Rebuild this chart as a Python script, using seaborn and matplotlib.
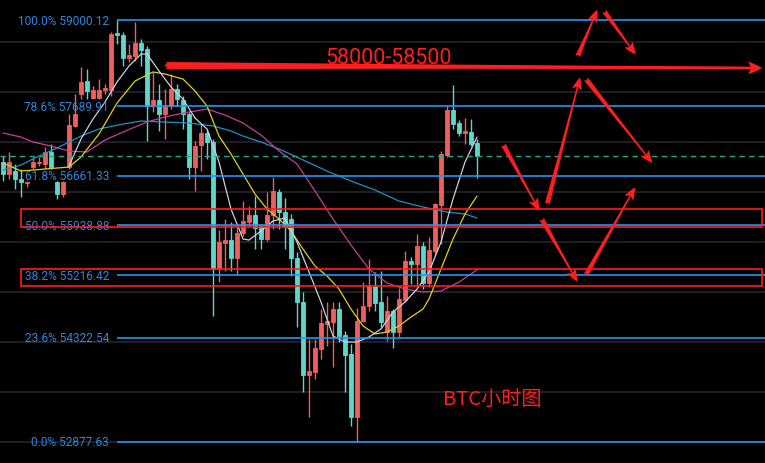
import numpy as np
import pandas as pd
import seaborn as sns
import matplotlib.pyplot as plt

# hourly BTC candles, oldest first
opens = [56863, 56686, 56730, 56613, 56554, 56789, 56848, 56834, 57011, 56569,
         56393, 56789, 57398, 57876, 58072, 57816, 57816, 57937, 57937, 58802,
         58771, 58420, 58451, 58648, 58557, 57696, 57786, 57576, 57696, 57952,
         57786, 57576, 56789, 57115, 57293, 57159, 55304, 55679, 55722, 55463,
         55824, 55983, 56085, 55925, 55737, 56085, 56422, 56129, 56027, 55463,
         54832, 53802, 53844, 54166, 54520, 54548, 54732, 54364, 54096, 53218,
         54562, 54775, 55060, 54832, 54407, 54704, 54407, 54861, 55420, 55376,
         55636, 55103, 55563, 56232, 56967, 57636, 57442, 57293, 57308, 57144]
highs = [56952, 57011, 56834, 56760, 56583, 56937, 56937, 57085, 57130, 56583,
         56583, 57576, 57876, 58284, 58254, 57997, 58102, 58027, 58817, 59000.12,
         58817, 58633, 58969, 58709, 58603, 58209, 58027, 57952, 58178, 58027,
         57846, 57606, 57174, 57427, 57353, 57204, 55867, 56027, 55983, 55925,
         56290, 56217, 56363, 55954, 56422, 56642, 56466, 56334, 56100, 55549,
         54975, 54307, 54307, 54732, 54832, 54832, 54832, 54421, 54237, 54747,
         55117, 55448, 55261, 55276, 54918, 54732, 55032, 55563, 55477, 55809,
         55693, 55766, 56261, 57026, 57711, 58012, 57487, 57517, 57502, 57204]
lows = [56583, 56613, 56466, 56349, 56495, 56760, 56804, 56760, 56760, 56320,
        56349, 56760, 57383, 57801, 57801, 57801, 57801, 57876, 57846, 58633,
        58299, 58360, 58375, 58299, 57174, 57606, 57323, 57204, 57651, 57696,
        57353, 56613, 56436, 56730, 56908, 54633, 55117, 55276, 55276, 55218,
        55780, 55911, 55592, 55592, 55708, 55882, 55882, 55592, 55204, 54477,
        53565, 53218, 53746, 54026, 54209, 53914, 54265, 53565, 53094, 52877.63,
        54548, 54704, 54704, 54477, 54279, 54180, 54336, 54832, 55089, 55060,
        55017, 55046, 55520, 55664, 56937, 57353, 57248, 57130, 57100, 56627]
closes = [56686, 56863, 56613, 56569, 56569, 56863, 56863, 57011, 56789, 56393,
          56569, 57412, 57576, 58057, 57922, 57937, 57937, 57967, 58786, 58771,
          58420, 58466, 58648, 58542, 57696, 57786, 57576, 57696, 57952, 57801,
          57576, 56789, 57100, 57293, 57159, 55304, 55693, 55722, 55463, 55824,
          55998, 56085, 55896, 55737, 56085, 56436, 56129, 55925, 55463, 54832,
          53802, 53858, 54180, 54534, 54562, 54732, 54350, 54082, 53218, 54562,
          54775, 55060, 54818, 54548, 54704, 54407, 54875, 55420, 55376, 55636,
          55103, 55578, 56246, 56982, 57636, 57427, 57293, 57323, 57130, 56952]

# moving averages, sampled along the drawn lines (candle index, price)
ma_white_idx = [11, 13, 15, 17, 19, 21, 23, 24, 26, 28, 30, 32, 34, 36, 38, 40, 41, 43, 45, 47,
                49, 51, 53, 55, 57, 59, 61, 63, 65, 67, 69, 71, 73, 75, 77, 79]
ma_white = [56804, 57204, 57502, 57756, 58057, 58299, 58481, 58481, 58224, 57982, 57801, 57517,
            57353, 56863, 56173, 55737, 55722, 55853, 55998, 56042, 55693, 55261, 54832, 54350,
            54265, 54265, 54336, 54449, 54690, 54832, 55017, 55261, 55693, 56320, 56863, 57233]
ma_yellow_idx = [0, 3, 11, 13, 16, 19, 22, 25, 27, 30, 32, 34, 36, 38, 40, 42, 44, 46, 48, 50,
                 52, 54, 56, 58, 60, 62, 64, 66, 68, 70, 71, 73, 75, 77, 79]
ma_yellow = [56848, 56730, 56789, 56937, 57278, 57741, 58072, 58209, 58178, 58102, 57922, 57696,
             57248, 56982, 56686, 56393, 56173, 56027, 55853, 55592, 55347, 55204, 55017, 54732,
             54492, 54378, 54407, 54492, 54619, 54732, 54875, 55304, 55737, 56100, 56363]
ma_pink_idx = [0, 3, 5, 8, 11, 14, 17, 20, 24, 27, 30, 34, 37, 40, 43, 46, 49, 52, 55, 58,
               61, 64, 67, 70, 73, 76, 79]
ma_pink = [57293, 57233, 57159, 57100, 57026, 57011, 57189, 57308, 57457, 57532, 57591, 57651,
           57561, 57442, 57263, 57026, 56834, 56436, 56027, 55650, 55304, 55103, 55017, 54975,
           54989, 55117, 55290]
ma_blue_idx = [0, 3, 6, 9, 13, 16, 20, 23, 27, 31, 35, 38, 40, 43, 46, 50, 54, 58, 62, 66,
               70, 74, 77, 79]
ma_blue = [56745, 56819, 56952, 57070, 57248, 57353, 57427, 57472, 57457, 57442, 57398, 57323,
           57248, 57159, 57056, 56893, 56730, 56583, 56451, 56290, 56202, 56129, 56100, 56042]

fib_pct = ["100.0%", "78.6%", "61.8%", "50.0%", "38.2%", "23.6%", "0.0%"]
fib_price = [59000.12, 57689.91, 56661.33, 55938.88, 55216.42, 54322.54, 52877.63]
fib_start = 19  # candle of the swing high

zones = [(55911, 56173), (55060, 55304)]
target_label = "58000-58500"
chart_title = "BTC小时图"

UP = '#ef5f5c'
DOWN = '#5fd6ca'
RED = '#ff1e1e'

sns.set_style("dark", rc={"axes.facecolor": "black", "figure.facecolor": "black"})
plt.rcParams['font.family'] = ['Noto Sans CJK SC', 'DejaVu Sans']

fig = plt.figure(figsize=(7.65, 4.64), dpi=100)
ax = fig.add_axes([0, 0, 1, 1])
ax.set_facecolor('black')
ax.set_yscale('log')
ax.set_xlim(-0.5, 127)
ax.set_ylim(52586, 59323)
ax.axis('off')

# background grid
for k in range(9):
    f = 1 - (43 + 50 * k) / 464
    ax.plot([0, 1], [f, f], transform=ax.transAxes, color='#262930', lw=1.1, zorder=0)

# candles
df = pd.DataFrame({'o': opens, 'h': highs, 'l': lows, 'c': closes})
df['i'] = np.arange(len(df))
df['col'] = np.where(df['c'] >= df['o'], UP, DOWN)
ax.vlines(df['i'], df['l'], df['h'], colors=df['col'], lw=1.0, zorder=2)
bottom = df[['o', 'c']].min(axis=1)
height = (df['c'] - df['o']).abs()
ax.bar(df['i'], height, bottom=bottom, width=0.62, color=df['col'],
       edgecolor=df['col'], linewidth=0.6, zorder=3)

# moving averages
for idx, vals, col in [(ma_blue_idx, ma_blue, '#2191c6'), (ma_pink_idx, ma_pink, '#c43e9e'),
                       (ma_yellow_idx, ma_yellow, '#e2cf1f'), (ma_white_idx, ma_white, '#cdd0e0')]:
    sns.lineplot(x=idx, y=vals, ax=ax, color=col, lw=0.9, zorder=4)

# last price
ax.axhline(closes[-1], color='#1fa88a', lw=1.0, ls=(0, (4, 3)), zorder=4)

# fibonacci levels
ax.hlines(fib_price, fib_start, 127, colors='#2196f3', lw=1.2, zorder=5)
ytr = ax.get_yaxis_transform()
for pct, p in zip(fib_pct, fib_price):
    ax.text(0.1425, p, f"{pct} {p:.2f}", transform=ytr, ha='right', va='center',
            color='#3186dc', fontsize=8.6, family=['Roboto', 'DejaVu Sans'], zorder=6)

# support zones
for lo, hi in zones:
    ax.add_patch(plt.Rectangle((3.0, lo), 123.5, hi - lo, fill=False, ec=RED, lw=1.2, zorder=6))

# target arrow and projected paths (axes fraction)
arrow_paths = [
    ((0.2170, 0.8567), (0.9961, 0.8513), 5.0, 10, 9),
    ((0.7552, 0.8765), (0.7808, 0.9769), 3.5, 9, 7),
    ((0.7899, 0.9735), (0.8310, 0.8800), 3.5, 9, 7),
    ((0.7154, 0.5582), (0.7582, 0.8312), 3.5, 9, 7),
    ((0.7660, 0.8276), (0.8527, 0.6466), 3.5, 9, 7),
    ((0.6579, 0.6860), (0.7050, 0.5438), 3.5, 9, 7),
    ((0.7081, 0.5259), (0.7546, 0.3907), 3.5, 9, 7),
    ((0.7660, 0.4052), (0.8301, 0.5942), 3.5, 9, 7),
]
ax.plot([0.2170, 0.99], [0.8567, 0.8513], transform=ax.transAxes, color=RED, lw=1.8, zorder=7)
for tail, tip, tw, hl, hw in arrow_paths:
    ax.annotate('', xy=tip, xytext=tail, xycoords='axes fraction', textcoords='axes fraction',
                arrowprops=dict(arrowstyle=f'fancy,head_length={hl},head_width={hw},tail_width={tw}',
                                mutation_scale=1, color=RED, lw=0, shrinkA=0, shrinkB=0),
                zorder=7)

ax.text(0.508, 0.875, target_label, transform=ax.transAxes, ha='center', va='center',
        color=RED, fontsize=15.5, family=['Roboto', 'DejaVu Sans'], zorder=8)
ax.text(0.643, 0.138, chart_title, transform=ax.transAxes, ha='center', va='center',
        color=RED, fontsize=14.5, zorder=8)

plt.savefig("out.png", dpi=100, facecolor='black')
